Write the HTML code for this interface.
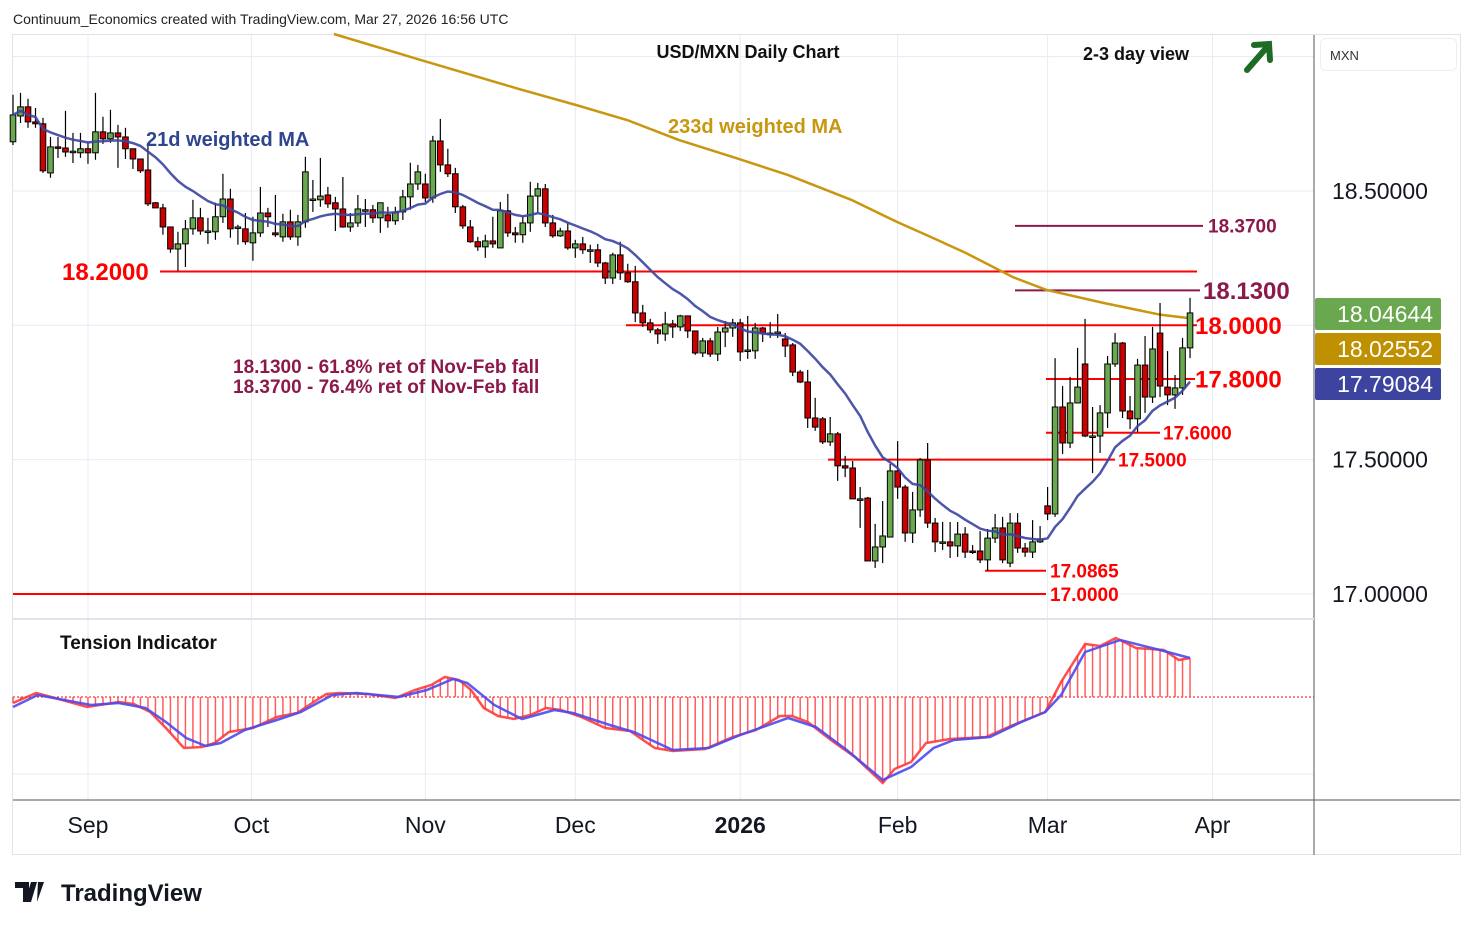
<!DOCTYPE html>
<html><head><meta charset="utf-8">
<style>
body{margin:0;background:#fff;font-family:"Liberation Sans",sans-serif;}
#wrap{position:relative;width:1474px;height:930px;overflow:hidden;}
svg text{font-family:"Liberation Sans",sans-serif;}
</style></head>
<body>
<div id="wrap">
<svg id="svg" width="1474" height="930" xmlns="http://www.w3.org/2000/svg">
<rect x="0" y="0" width="1474" height="930" fill="#fff"/>
<text x="13" y="24" font-size="14" fill="#222">Continuum_Economics created with TradingView.com, Mar 27, 2026 16:56 UTC</text>
<rect x="12.5" y="34.5" width="1448" height="820" fill="none" stroke="#e0e3eb"/>
<g id="grid"></g>
<g id="levels"></g>
<g id="ma233g"></g>
<g id="candles"></g>
<g id="ma21g"></g>
<g id="tension"></g>
<line x1="1314" y1="35" x2="1314" y2="855" stroke="#555"/>
<line x1="13" y1="800" x2="1460" y2="800" stroke="#555"/>
<line x1="13" y1="619" x2="1314" y2="619" stroke="#e0e3eb" stroke-width="2"/>
<text x="748" y="58" font-size="18" font-weight="bold" text-anchor="middle" fill="#111">USD/MXN Daily Chart</text>
<text x="1136" y="60" font-size="18" font-weight="bold" text-anchor="middle" fill="#111">2-3 day view</text>
<g stroke="#1e6b25" stroke-width="6" fill="none" stroke-linecap="round">
<line x1="1247" y1="70" x2="1268" y2="46"/><polyline points="1254,45 1269,44 1270,60"/></g>
<text x="146" y="146" font-size="20" font-weight="bold" fill="#2f4590">21d weighted MA</text>
<text x="668" y="133" font-size="20" font-weight="bold" fill="#c8960f">233d weighted MA</text>
<text x="233" y="373" font-size="19" font-weight="bold" fill="#8b1a4b">18.1300 - 61.8% ret of Nov-Feb fall</text>
<text x="233" y="393" font-size="19" font-weight="bold" fill="#8b1a4b">18.3700 - 76.4% ret of Nov-Feb fall</text>
<text x="60" y="649" font-size="19" font-weight="bold" fill="#111">Tension Indicator</text>
<rect x="1320.5" y="38.5" width="136" height="32" rx="5" fill="#fff" stroke="#eee"/>
<text x="1330" y="60" font-size="13" fill="#333">MXN</text>
<g id="axis"></g>
<g id="taxis"></g>
<g>
<path d="M15 882h14v20h-6v-14h-8z M31 882h6l-6 20h-6z M38 882h6l-7 20z" fill="#131722"/>
<text x="61" y="901" font-size="24" font-weight="bold" fill="#131722">TradingView</text></g>
</svg></div>
<script>
// ===== data =====
const opens=[18.683,18.779,18.813,18.757,18.750,18.567,18.664,18.660,18.648,18.642,18.657,18.642,18.720,18.694,18.716,18.701,18.657,18.619,18.578,18.456,18.437,18.366,18.284,18.303,18.359,18.400,18.351,18.348,18.404,18.470,18.366,18.359,18.307,18.344,18.418,18.344,18.329,18.385,18.329,18.385,18.470,18.467,18.485,18.456,18.433,18.366,18.381,18.430,18.430,18.400,18.411,18.389,18.422,18.478,18.526,18.526,18.474,18.686,18.597,18.564,18.441,18.366,18.311,18.292,18.314,18.288,18.426,18.344,18.337,18.381,18.481,18.508,18.381,18.333,18.351,18.288,18.303,18.281,18.281,18.232,18.176,18.262,18.195,18.162,18.046,18.009,17.983,17.968,18.005,17.994,18.035,17.979,17.897,17.942,17.893,17.975,17.990,18.009,17.908,17.905,17.990,17.971,17.975,17.949,17.927,17.826,17.789,17.655,17.652,17.566,17.596,17.477,17.469,17.354,17.357,17.123,17.175,17.212,17.458,17.398,17.227,17.313,17.499,17.264,17.194,17.194,17.179,17.223,17.160,17.160,17.127,17.208,17.246,17.115,17.264,17.171,17.156,17.194,17.328,17.298,17.696,17.562,17.711,17.856,17.588,17.588,17.674,17.856,17.934,17.681,17.652,17.852,17.733,17.971,17.770,17.741,17.767,17.916];
const highs=[18.858,18.865,18.843,18.809,18.772,18.701,18.701,18.798,18.716,18.716,18.683,18.865,18.776,18.802,18.746,18.735,18.657,18.619,18.675,18.459,18.452,18.366,18.348,18.392,18.467,18.437,18.400,18.456,18.564,18.508,18.374,18.418,18.404,18.515,18.437,18.485,18.415,18.430,18.411,18.627,18.541,18.623,18.515,18.478,18.552,18.418,18.485,18.470,18.448,18.456,18.441,18.441,18.504,18.605,18.597,18.564,18.705,18.768,18.657,18.586,18.448,18.392,18.329,18.337,18.404,18.459,18.489,18.366,18.407,18.534,18.530,18.526,18.411,18.363,18.381,18.318,18.329,18.300,18.303,18.236,18.270,18.311,18.229,18.221,18.076,18.024,17.990,18.050,18.020,18.039,18.035,17.979,17.953,17.953,17.994,18.016,18.024,18.024,18.035,18.009,17.994,18.012,18.042,17.971,17.934,17.834,17.834,17.730,17.659,17.659,17.603,17.514,17.495,17.398,17.361,17.261,17.346,17.484,17.569,17.406,17.380,17.506,17.562,17.283,17.268,17.268,17.268,17.249,17.182,17.234,17.242,17.298,17.287,17.301,17.301,17.190,17.275,17.253,17.398,17.878,17.774,17.808,17.916,18.024,17.696,17.703,17.886,17.971,17.938,17.737,17.875,17.960,17.994,18.083,17.904,17.815,17.953,18.102];
const lows=[18.671,18.753,18.735,18.735,18.567,18.549,18.623,18.627,18.604,18.623,18.601,18.616,18.675,18.679,18.586,18.619,18.582,18.567,18.444,18.437,18.337,18.270,18.203,18.217,18.337,18.337,18.303,18.318,18.381,18.326,18.300,18.300,18.240,18.329,18.366,18.329,18.311,18.318,18.296,18.363,18.422,18.441,18.437,18.351,18.363,18.348,18.366,18.366,18.381,18.344,18.363,18.374,18.392,18.430,18.504,18.459,18.456,18.571,18.552,18.418,18.359,18.307,18.277,18.251,18.288,18.288,18.329,18.307,18.307,18.348,18.418,18.366,18.326,18.329,18.281,18.251,18.266,18.232,18.217,18.154,18.154,18.169,18.158,18.012,17.994,17.971,17.931,17.942,17.953,17.979,17.953,17.890,17.882,17.882,17.867,17.919,17.957,17.867,17.875,17.875,17.938,17.953,17.953,17.882,17.811,17.785,17.618,17.607,17.558,17.551,17.421,17.435,17.354,17.246,17.123,17.097,17.115,17.212,17.354,17.194,17.190,17.287,17.246,17.156,17.164,17.134,17.138,17.134,17.149,17.115,17.087,17.190,17.115,17.100,17.153,17.138,17.134,17.190,17.275,17.287,17.521,17.543,17.711,17.584,17.450,17.525,17.618,17.845,17.655,17.614,17.603,17.674,17.711,17.733,17.703,17.689,17.741,17.878];
const closes=[18.783,18.813,18.757,18.750,18.575,18.664,18.660,18.645,18.648,18.657,18.642,18.720,18.694,18.716,18.701,18.657,18.619,18.575,18.452,18.437,18.366,18.284,18.303,18.359,18.400,18.351,18.351,18.404,18.470,18.359,18.366,18.311,18.344,18.418,18.404,18.337,18.385,18.329,18.385,18.571,18.470,18.481,18.452,18.433,18.366,18.381,18.433,18.430,18.400,18.456,18.389,18.422,18.478,18.526,18.571,18.474,18.686,18.597,18.564,18.441,18.370,18.311,18.292,18.314,18.303,18.426,18.344,18.337,18.381,18.481,18.508,18.381,18.333,18.351,18.288,18.303,18.281,18.281,18.232,18.176,18.262,18.195,18.162,18.046,18.009,17.983,17.968,18.005,17.994,18.035,17.979,17.897,17.942,17.893,17.975,17.990,18.009,17.901,17.908,17.990,17.971,17.971,17.975,17.923,17.826,17.789,17.655,17.621,17.566,17.596,17.477,17.469,17.354,17.354,17.123,17.175,17.216,17.458,17.398,17.227,17.313,17.499,17.264,17.194,17.194,17.179,17.223,17.156,17.156,17.127,17.208,17.246,17.127,17.264,17.171,17.156,17.194,17.205,17.298,17.696,17.562,17.711,17.770,17.588,17.588,17.674,17.856,17.934,17.681,17.652,17.852,17.733,17.912,17.774,17.741,17.767,17.916,18.046];
const ma233Idx=[42.8,54.3,67.4,75.1,81.9,88.8,96.4,103.4,111.8,117.9,122.4,127.1,133.3,137.8,145.5,153.1,157];
const ma233Val=[19.084,18.988,18.880,18.820,18.764,18.690,18.623,18.559,18.467,18.385,18.329,18.269,18.180,18.132,18.083,18.039,18.026];
const tensIdx=[0,3.1,6.1,9.9,14.1,16.1,18.3,20.4,22.8,25.2,26.9,28.8,32,35.2,37.9,39.9,41.8,43.6,47.4,51,53.6,55.8,57.6,59.5,61.1,62.8,64.7,66.8,69,71.1,73.1,75.8,79,82.3,85.6,88,92.3,96,99.1,102.3,103.9,106,109.1,112.3,116,117.6,119.8,121.8,125,129.8,133.4,137.7,139.8,143,145,147.1,149.8,153.5,155.5,157];
const tensVal=[-0.6,0.4,-0.2,-1.0,-0.5,-0.7,-1.5,-3.1,-5.1,-5.0,-4.6,-3.5,-3.1,-2.0,-1.6,-0.6,0.3,0.4,0.3,-0.1,0.7,1.2,2.0,1.7,0.7,-1.1,-1.9,-2.2,-1.8,-1.1,-1.3,-2.0,-3.1,-3.4,-5.1,-5.4,-5.2,-4.0,-3.3,-1.9,-1.9,-2.5,-4.3,-6.0,-8.6,-7.2,-6.5,-4.6,-4.2,-4.0,-2.8,-1.5,1.5,5.3,5.1,5.9,4.9,4.7,3.7,3.9];
const sigIdx=[0,3.3,10.4,14.1,17.7,20.4,23.1,25.7,27.7,30.9,35.2,38.4,42.6,45.8,51.5,55.2,58.7,60.6,64.2,67.9,72.2,74.7,79.6,82.8,88,92.8,97,103.4,107.1,111.2,116,119.8,122.8,125.5,130.3,134.5,137.7,139.8,143,147.7,153.5,157];
const sigVal=[-1.0,0.2,-0.8,-0.6,-1.1,-2.5,-4.1,-4.9,-4.6,-3.3,-2.3,-1.5,0.2,0.4,0,0.7,1.8,1.4,-0.8,-2.2,-1.3,-1.6,-2.8,-3.5,-5.3,-5.1,-3.8,-2.1,-3.0,-5.3,-8.3,-7.0,-5.1,-4.3,-4.0,-2.5,-1.5,0.2,4.5,5.7,4.6,3.9];
const priceTicks=["19.00000","18.50000","18.00000","17.50000","17.00000"];
const priceTickVals=[19.0,18.5,18.0,17.5,17.0];
const monthLabels=["Sep","Oct","Nov","Dec","2026","Feb","Mar","Apr"];
const monthIdx=[10,31.8,55,75,97,118,138,160];
const levelVals=[18.2,18.0,17.8,17.6,17.5,17.0865,17.0,18.13,18.37];
const levelText=["18.2000","18.0000","17.8000","17.6000","17.5000","17.0865","17.0000","18.1300","18.3700"];
// ===== scales =====
const NS="http://www.w3.org/2000/svg";
function X(i){return 13+i*7.497;}
function Y(p){return 594-(p-17)*268.7;}
function TY(v){return 697-v*10;}
function mk(tag,attrs,parent){const e=document.createElementNS(NS,tag);for(const k in attrs)e.setAttribute(k,attrs[k]);parent.appendChild(e);return e;}
const g=id=>document.getElementById(id);
priceTickVals.forEach((v,k)=>{
 const l=mk('line',{x1:13,x2:1314,y1:Y(v),y2:Y(v),stroke:'#e6ecf3'},g('grid'));
 
 
 if(k!==0&&k!==2){const t=mk('text',{x:1332,y:Y(v)+8,'font-size':23,fill:'#131722'},g('axis'));t.textContent=priceTicks[k];
 
 }
});
[774].forEach(y=>{const l=mk('line',{x1:13,x2:1314,y1:y,y2:y,stroke:'#e6ecf3'},g('grid'));
 
 });
monthIdx.forEach((m,k)=>{
 const x=X(m);
 const l=mk('line',{x1:x,x2:x,y1:35,y2:800,stroke:'#e6ecf3'},g('grid'));
 
 
 const t=mk('text',{x:x,y:833,'font-size':23,'text-anchor':'middle',fill:'#131722','font-weight':monthLabels[k]==='2026'?'bold':'normal'},g('taxis'));
 t.textContent=monthLabels[k];
 
 
});
const levStyle=[[160,1197,62,24,'#f00'],[626,1197,1195,24,'#f00'],[1046,1195,1195,24,'#f00'],[1046,1160,1163,19,'#f00'],[828,1115,1118,19,'#f00'],[985,1046,1050,19,'#f00'],[13,1046,1050,19,'#f00'],[1015,1200,1203,24,'#8b1a4b'],[1015,1203,1208,19,'#8b1a4b']];
levelVals.forEach((v,k)=>{
 const s=levStyle[k],y=Y(v);
 const l=mk('line',{x1:s[0],x2:s[1],y1:y,y2:y,stroke:s[4],'stroke-width':2},g('levels'));
 
 
 const t=mk('text',{x:s[2],y:y+s[3]*0.36,'font-size':s[3],'font-weight':'bold',fill:s[4]},g('levels'));
 t.textContent=levelText[k];
 
 
});
let d=ma233Idx.map((m,k)=>(k?'L':'M')+X(m).toFixed(1)+' '+Y(ma233Val[k]).toFixed(1)).join(' ');
const p233=mk('path',{d:d,fill:'none',stroke:'#c8960f','stroke-width':2.5},g('ma233g'));


closes.forEach((c,i)=>{
 const x=X(i),o=opens[i],up=c>=o;
 const w=mk('line',{x1:x,x2:x,y1:Y(highs[i]),y2:Y(lows[i]),stroke:'#000','stroke-width':1.2},g('candles'));
 
 
 const top=Y(Math.max(o,c)),h=Math.max(1.5,Y(Math.min(o,c))-top);
 const r=mk('rect',{x:x-2.8,y:top,width:5.6,height:h,fill:up?'#6aa84f':'#cc0000',stroke:'#000','stroke-width':1},g('candles'));
 
 
});
const wma=closes.map((c,i)=>{let s=0,ws=0;for(let k=0;k<21&&i-k>=0;k++){const w=21-k;s+=closes[i-k]*w;ws+=w;}return s/ws;});
d=wma.map((v,i)=>(i?'L':'M')+X(i).toFixed(1)+' '+Y(v).toFixed(1)).join(' ');
const p21=mk('path',{d:d,fill:'none',stroke:'#3c44a0','stroke-width':2.5,'stroke-opacity':0.9},g('ma21g'));


const tagVals=[closes[closes.length-1],ma233Val[ma233Val.length-1],wma[wma.length-1]];
const tagText=['18.04644','18.02552','17.79084'];
const tagCol=['#6aa84f','#bf9000','#3c44a0'];
const tagY=[298,333,368];
tagVals.forEach((t,k)=>{
 const r=mk('rect',{x:1315,y:tagY[k],width:126,height:32,fill:tagCol[k],rx:2},g('axis'));
 
 
 const tx=mk('text',{x:1433,y:tagY[k]+24,'font-size':23,fill:'#fff','text-anchor':'end'},g('axis'));
 tx.textContent=tagText[k];
 
 
});
const zl=mk('line',{x1:13,x2:1314,y1:TY(0),y2:TY(0),stroke:'#f00','stroke-dasharray':'2,2'},g('tension'));


function interp(ix,vs,t){for(let k=0;k<ix.length-1;k++){if(t>=ix[k]&&t<=ix[k+1]){const f=(t-ix[k])/(ix[k+1]-ix[k]);return vs[k]+f*(vs[k+1]-vs[k]);}}return vs[vs.length-1];}
closes.forEach((c,i)=>{
 const v=interp(tensIdx,tensVal,i);
 const h=mk('line',{x1:X(i),x2:X(i),y1:TY(0),y2:TY(v),stroke:'#ff4040','stroke-width':1.5,'stroke-opacity':0.85},g('tension'));
 
 
});
d=tensIdx.map((m,k)=>(k?'L':'M')+X(m).toFixed(1)+' '+TY(tensVal[k]).toFixed(1)).join(' ');
const tl=mk('path',{d:d,fill:'none',stroke:'#ff3030','stroke-width':2.5,'stroke-opacity':0.85},g('tension'));


d=sigIdx.map((m,k)=>(k?'L':'M')+X(m).toFixed(1)+' '+TY(sigVal[k]).toFixed(1)).join(' ');
const sl=mk('path',{d:d,fill:'none',stroke:'#4a4af0','stroke-width':2.5,'stroke-opacity':0.9},g('tension'));


</script>
</body></html>
